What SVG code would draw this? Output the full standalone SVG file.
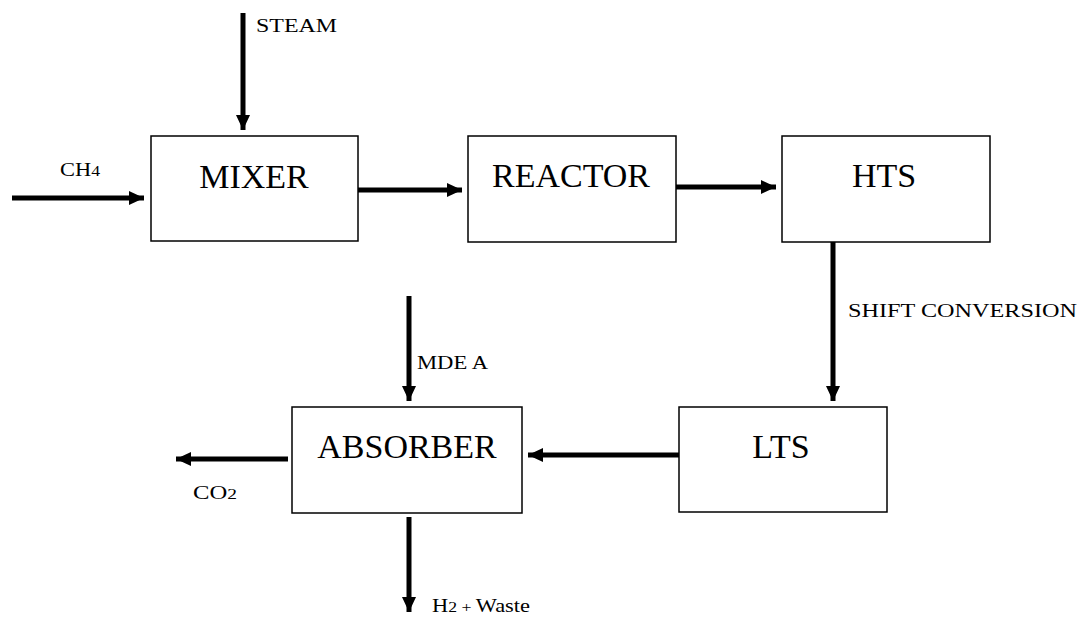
<svg xmlns="http://www.w3.org/2000/svg" width="1087" height="618" viewBox="0 0 1087 618">
<style>
.box{fill:#fff;stroke:#000;stroke-width:1.5}
.big{font-family:"Liberation Serif","Times New Roman","DejaVu Serif",serif;font-size:34px;fill:#000;text-anchor:middle}
.lbl{font-family:"Liberation Serif","Times New Roman","DejaVu Serif",serif;font-size:19px;fill:#000}
.c{stroke:#000;stroke-width:5;fill:none;marker-end:url(#ah)}
</style>
<defs>
<marker id="ah" markerWidth="4" markerHeight="4" refX="3" refY="2" orient="auto" markerUnits="strokeWidth">
<path d="M0,0.6 L3,2 L0,3.4 Z" fill="#000"/>
</marker>
</defs>
<rect width="1087" height="618" fill="#fff"/>
<g id="connectors">
<line class="c" x1="12" y1="198" x2="144" y2="198"/>
<line class="c" x1="243" y1="13" x2="243" y2="130"/>
<line class="c" x1="358" y1="190" x2="462" y2="190"/>
<line class="c" x1="676" y1="187" x2="776" y2="187"/>
<line class="c" x1="833" y1="242" x2="833" y2="401"/>
<line class="c" x1="679" y1="455" x2="528" y2="455"/>
<line class="c" x1="288" y1="459" x2="176" y2="459"/>
<line class="c" x1="409" y1="296" x2="409" y2="401"/>
<line class="c" x1="409" y1="517" x2="409" y2="612"/>
</g>
<g id="labels">
<text class="lbl" x="256" y="32" textLength="81" lengthAdjust="spacingAndGlyphs">STEAM</text>
<text class="lbl" x="60" y="176" textLength="40" lengthAdjust="spacingAndGlyphs">CH<tspan font-size="15">4</tspan></text>
<text class="lbl" x="848" y="317" textLength="229" lengthAdjust="spacingAndGlyphs">SHIFT CONVERSION</text>
<text class="lbl" x="417" y="369" textLength="71" lengthAdjust="spacingAndGlyphs">MDE A</text>
<text class="lbl" x="193" y="499" textLength="44" lengthAdjust="spacingAndGlyphs">CO<tspan font-size="15">2</tspan></text>
<text class="lbl" x="432" y="612" textLength="98" lengthAdjust="spacingAndGlyphs">H<tspan font-size="15">2</tspan><tspan font-size="15"> + </tspan>Waste</text>
</g>
<g id="mixer"><rect class="box" x="151" y="136" width="207" height="105"/><text class="big" x="254" y="188">MIXER</text></g>
<g id="reactor"><rect class="box" x="468" y="136" width="208" height="106"/><text class="big" x="571" y="187">REACTOR</text></g>
<g id="hts"><rect class="box" x="782" y="136" width="208" height="106"/><text class="big" x="884" y="187">HTS</text></g>
<g id="lts"><rect class="box" x="679" y="407" width="208" height="105"/><text class="big" x="781" y="458">LTS</text></g>
<g id="absorber"><rect class="box" x="292" y="407" width="230" height="106"/><text class="big" x="407" y="458">ABSORBER</text></g>
</svg>
